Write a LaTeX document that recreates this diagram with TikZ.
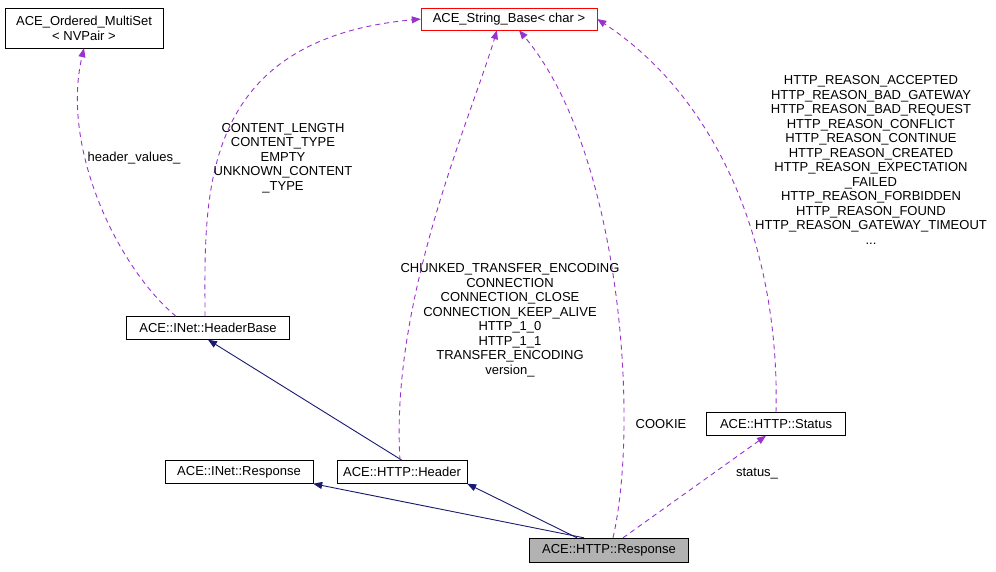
\documentclass[tikz,border=0pt]{standalone}
\usepackage{fontspec}
\setmainfont{Liberation Sans}
\usetikzlibrary{positioning,arrows.meta}
\definecolor{edgenavy}{HTML}{191970}
\definecolor{edgepurple}{HTML}{9A32CD}
\begin{document}
\begin{tikzpicture}[x=1pt, y=-1pt,
  box/.style = {draw, rectangle, inner sep=2pt, font=\fontsize{13}{15}\selectfont, align=center},
  lbl/.style = {font=\fontsize{13}{14.5}\selectfont, align=center, inner sep=1pt},
  inherit/.style = {edgenavy, line width=0.9pt, -{Triangle[open, fill=edgenavy, length=9pt, width=7pt]}},
  uses/.style = {edgepurple, line width=0.9pt, dash pattern=on 5pt off 4pt, -{Triangle[open, fill=edgepurple, length=9pt, width=7pt]}}]
\useasboundingbox (0,0) rectangle (996,571);

\node[box, minimum width=158pt, minimum height=40pt] (oms) at (84,28) {ACE\_Ordered\_MultiSet\\< NVPair >};
\node[box, draw=red, minimum width=176pt, minimum height=22pt] (sb) at (509,19) {ACE\_String\_Base< char >};
\node[box, minimum width=163pt, minimum height=23pt] (hb) at (208,328) {ACE::INet::HeaderBase};
\node[box, minimum width=148pt, minimum height=23pt] (ir) at (239,472) {ACE::INet::Response};
\node[box, minimum width=130pt, minimum height=23pt] (hh) at (402,472) {ACE::HTTP::Header};
\node[box, minimum width=139pt, minimum height=23pt] (hs) at (776,424) {ACE::HTTP::Status};
\node[box, fill=black!30, minimum width=159pt, minimum height=24pt] (hr) at (609,550) {ACE::HTTP::Response};

\draw[inherit] (hr.north) ++(-25,0) coordinate (r1) (r1) -- (ir.south east);
\draw[inherit] (hr.north) ++(-32,0) coordinate (r2) (r2) -- (hh.south east);
\draw[inherit] (hh.north) -- (hb.south);

\draw[uses] ([xshift=-32pt]hb.north) .. controls (120,270) and (60,150) .. (oms.south);
\draw[uses] ([xshift=-3pt]hb.north) .. controls (205,200) and (195,40) .. (sb.west);
\draw[uses] ([xshift=-2pt]hh.north) .. controls (390,300) and (470,120) .. ([xshift=-12pt]sb.south);
\draw[uses] ([xshift=4pt]hr.north) .. controls (640,420) and (620,150) .. ([xshift=10pt]sb.south);
\draw[uses] (hs.north) .. controls (780,250) and (720,100) .. (sb.east);
\draw[uses] ([xshift=14pt]hr.north) -- ([xshift=-10pt]hs.south);

\node[lbl] (l1) at (134,158) {header\_values\_};
\node[lbl] (l2) at (283,158) {CONTENT\_LENGTH\\CONTENT\_TYPE\\EMPTY\\UNKNOWN\_CONTENT\\\_TYPE};
\node[lbl] (l3) at (510,320) {CHUNKED\_TRANSFER\_ENCODING\\CONNECTION\\CONNECTION\_CLOSE\\CONNECTION\_KEEP\_ALIVE\\HTTP\_1\_0\\HTTP\_1\_1\\TRANSFER\_ENCODING\\version\_};
\node[lbl] (l4) at (661,424) {COOKIE};
\node[lbl] (l5) at (757,474) {status\_};
\node[lbl] (l6) at (871,160) {HTTP\_REASON\_ACCEPTED\\HTTP\_REASON\_BAD\_GATEWAY\\HTTP\_REASON\_BAD\_REQUEST\\HTTP\_REASON\_CONFLICT\\HTTP\_REASON\_CONTINUE\\HTTP\_REASON\_CREATED\\HTTP\_REASON\_EXPECTATION\\\_FAILED\\HTTP\_REASON\_FORBIDDEN\\HTTP\_REASON\_FOUND\\HTTP\_REASON\_GATEWAY\_TIMEOUT\\...};
\end{tikzpicture}
\end{document}
